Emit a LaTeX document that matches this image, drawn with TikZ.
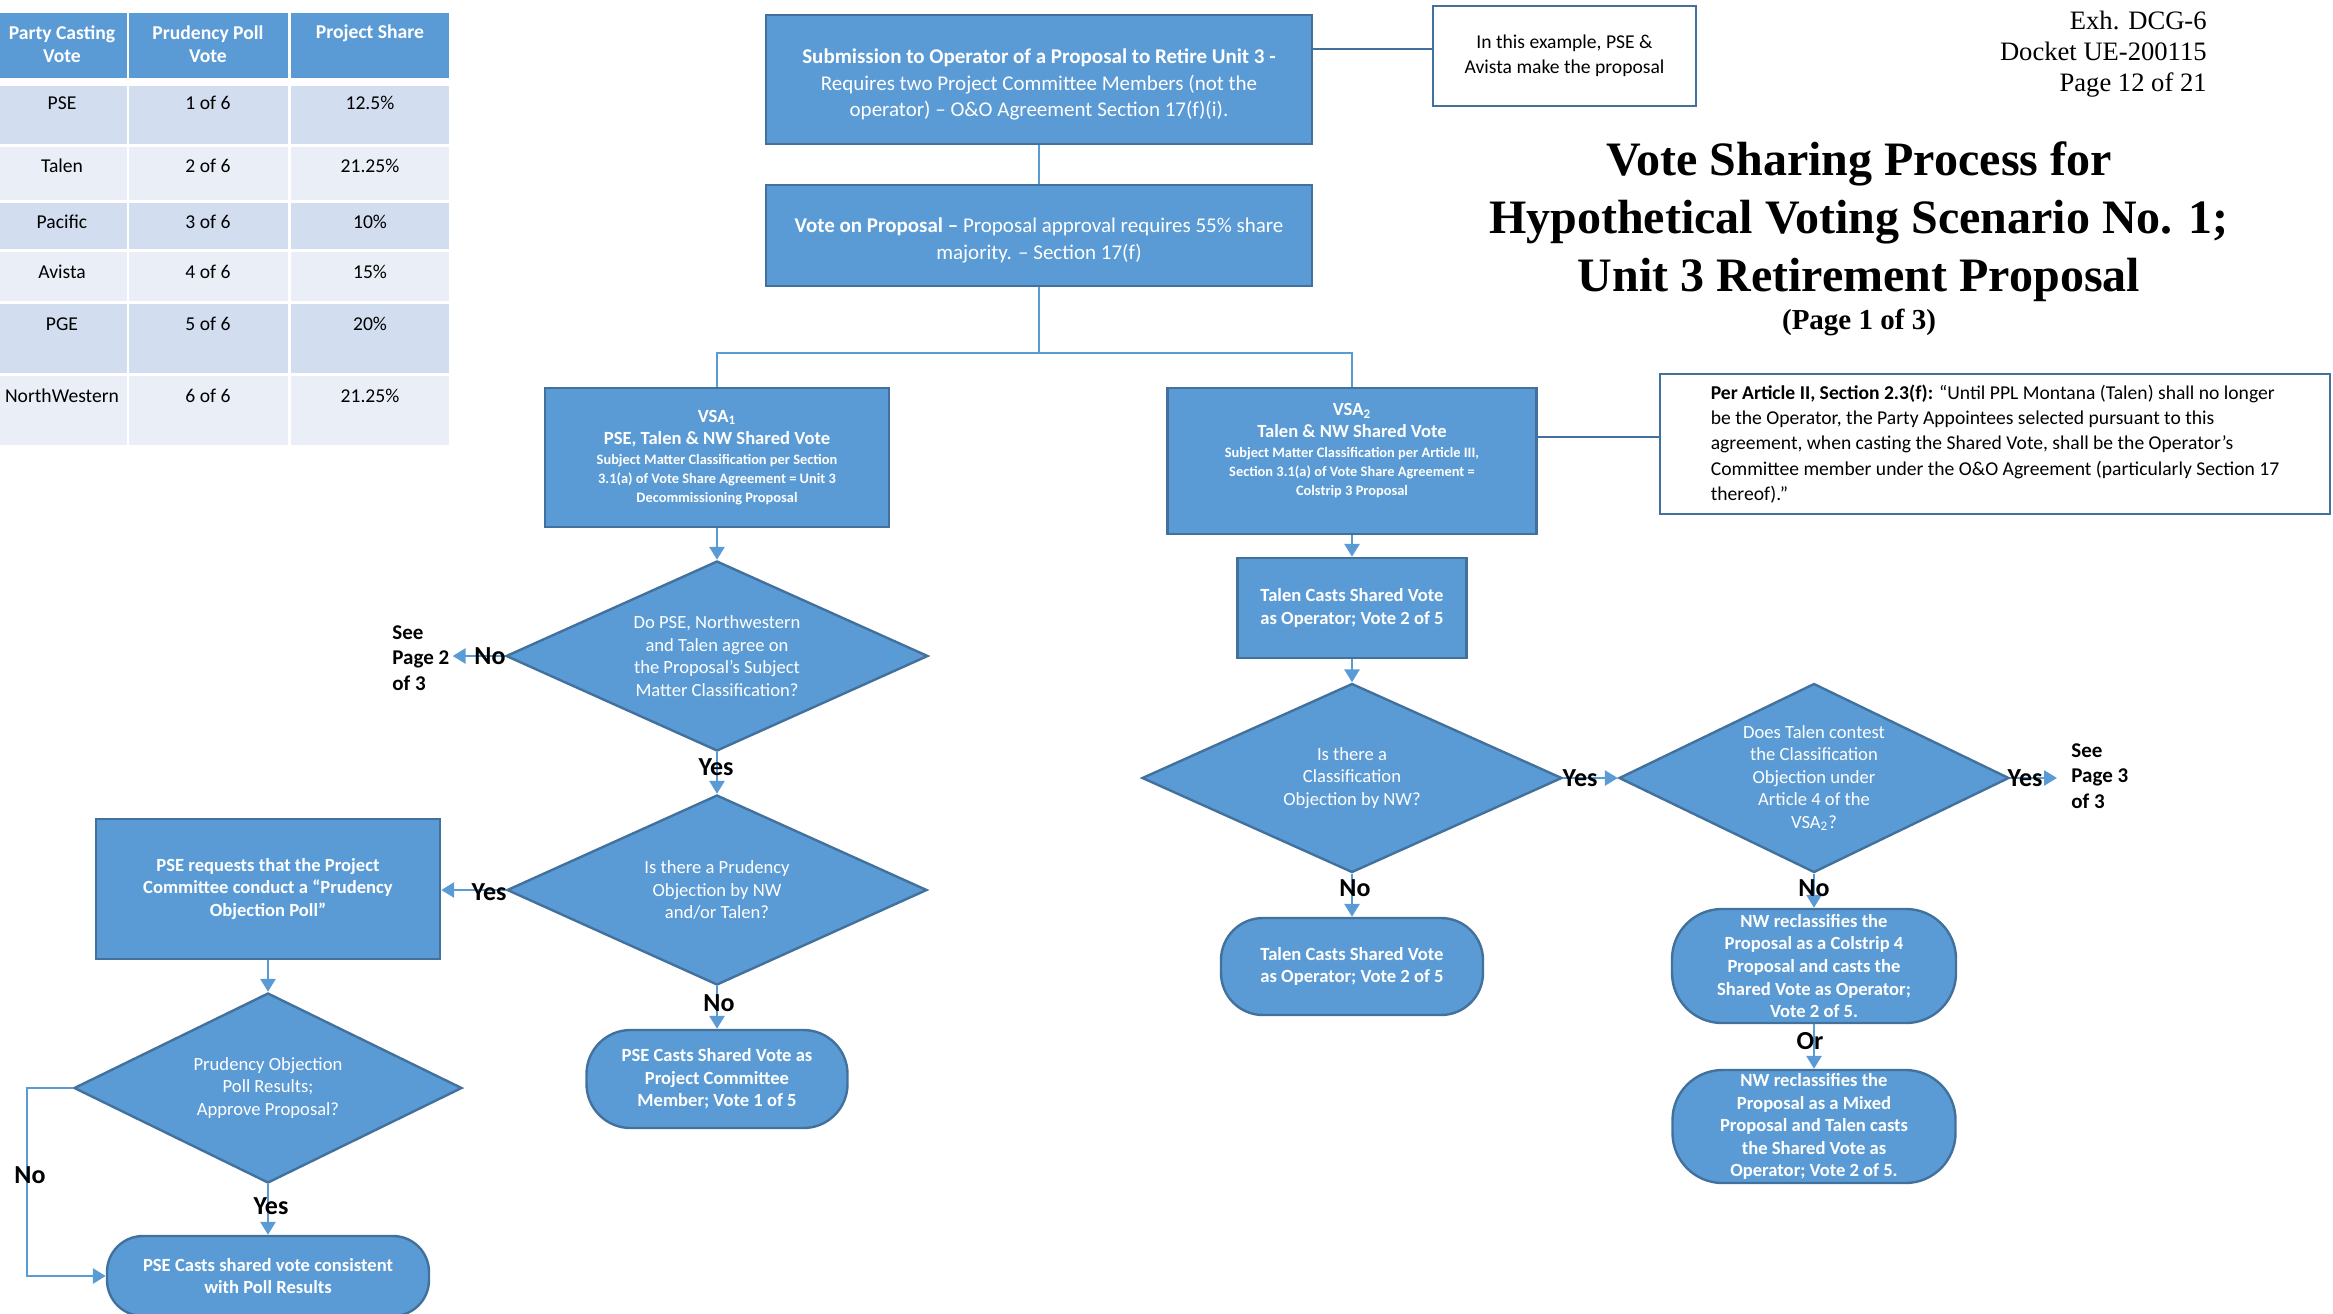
\documentclass[tikz,border=0pt]{standalone}
\usepackage{fontspec}
\setmainfont{Carlito}
\newfontfamily\seriff{Liberation Serif}
\usetikzlibrary{arrows.meta,shapes.geometric}
\definecolor{fillb}{HTML}{5B9BD5}
\definecolor{edgeb}{HTML}{41719C}
\definecolor{rowa}{HTML}{D2DEEF}
\definecolor{rowb}{HTML}{EAEFF7}
\begin{document}
\begin{tikzpicture}[x=0.5pt,y=-0.5pt,
 procbox/.style={draw=edgeb, fill=fillb, line width=1.2pt, text=white, align=center, inner sep=0pt, font=\bfseries\fontsize{9.3}{11.3}\selectfont},
 pill/.style={procbox, rounded corners=#1},
 dia/.style={diamond, aspect=2.1, draw=edgeb, fill=fillb, line width=1.2pt, text=white, align=center, inner sep=0pt, font=\fontsize{9.3}{11.3}\selectfont},
 notebox/.style={draw=edgeb, fill=white, line width=1.2pt, text=black, inner sep=0pt, font=\fontsize{9.8}{12.6}\selectfont},
 conn/.style={draw=fillb, line width=1.4pt, -{Triangle[width=7.5pt,length=6.5pt]}},
 thinl/.style={draw=fillb, line width=0.9pt},
 notel/.style={draw=edgeb, line width=1.2pt},
 lab/.style={font=\bfseries\fontsize{13}{15}\selectfont, inner sep=0pt, text=black},
 seelab/.style={font=\bfseries\fontsize{10.5}{12.6}\selectfont, inner sep=0pt, align=left, anchor=west, text=black},
 thd/.style={font=\bfseries\fontsize{9.8}{11.5}\selectfont, text=white, align=center, inner sep=0pt},
 tcell/.style={font=\fontsize{9.8}{11.5}\selectfont, text=black, inner sep=0pt},
 ttl/.style={anchor=base, font=\seriff\bfseries\fontsize{24}{29}\selectfont, inner sep=0pt},
 exh/.style={anchor=base east, font=\seriff\fontsize{13.3}{15.5}\selectfont, inner sep=0pt},
 ]
\useasboundingbox (0,0) rectangle (2333,1313);

% ---------- table ----------
\foreach \xa/\xb in {-31/127,129/288,291/449} \fill[fillb] (\xa,13) rectangle (\xb,78);
\foreach \ya/\yb/\cl in {86/144/rowa,147/200/rowb,203/249/rowa,252/301/rowb,304/373/rowa,376/445/rowb}
  \foreach \xa/\xb in {-31/127,129/288,291/449} \fill[\cl] (\xa,\ya) rectangle (\xb,\yb);
\node[thd] (th1) at (62,44.5) {Party Casting\\Vote};
\node[thd] (th2) at (208,44.5) {Prudency Poll\\Vote};
\node[thd] (th3) at (370,33) {Project Share};
\foreach \y/\a/\b/\c [count=\i] in {103/PSE/1 of 6/12.5\%,166/Talen/2 of 6/21.25\%,222/Pacific/3 of 6/10\%,272/Avista/4 of 6/15\%,324/PGE/5 of 6/20\%,396/NorthWestern/6 of 6/21.25\%}
{
  \node[tcell] (ta\i) at (62,\y) {\a};
  \node[tcell] (tb\i) at (208,\y) {\b};
  \node[tcell] (tc\i) at (370,\y) {\c};
}

% ---------- title block ----------
\node[ttl] (t1) at (1859,175) {Vote Sharing Process for};
\node[ttl] (t2) at (1859,233) {Hypothetical Voting Scenario No. 1;};
\node[ttl] (t3) at (1859,291) {Unit 3 Retirement Proposal};
\node[ttl, font=\seriff\bfseries\fontsize{14.5}{17}\selectfont] (t4) at (1859,329) {(Page 1 of 3)};
\node[exh] (e1) at (2207,29) {Exh. DCG-6};
\node[exh] (e2) at (2207,60) {Docket UE-200115};
\node[exh] (e3) at (2207,91) {Page 12 of 21};

% ---------- top ----------
\node[procbox, minimum width=273pt, minimum height=64.5pt, font=\fontsize{10.5}{13.3}\selectfont] (sub) at (1039,79.5)
 {\rule{0pt}{12.5pt}\textbf{Submission to Operator of a Proposal to Retire Unit 3 -}\\Requires two Project Committee Members (not the\\operator) – O\&O Agreement Section 17(f)(i).};
\node[notebox, minimum width=131.5pt, minimum height=50pt, align=center] (note1) at (1564.5,56) {In this example, PSE \&\\Avista make the proposal};
\coordinate (ly) at (0,49);
\draw[notel] (sub.east |- ly) -- (note1.west |- ly);

\node[procbox, minimum width=273pt, minimum height=50.5pt, font=\fontsize{10.5}{13.3}\selectfont] (vote) at (1039,235.5)
 {\rule{0pt}{12.5pt}\textbf{Vote on Proposal –} Proposal approval requires 55\% share\\majority. – Section 17(f)};
\draw[thinl] (sub) -- (vote);

\node[procbox, minimum width=172pt, minimum height=69.5pt] (vsa1) at (717,457.5)
 {VSA\textsubscript{1}\\[-0.3pt]PSE, Talen \& NW Shared Vote\\[-1.3pt]{\fontsize{7.2}{9}\selectfont Subject Matter Classification per Section}\\[-1.8pt]{\fontsize{7.2}{9}\selectfont 3.1(a) of Vote Share Agreement = Unit 3}\\[-1.8pt]{\fontsize{7.2}{9}\selectfont Decommissioning Proposal}};

\node[procbox, minimum width=184.5pt, minimum height=73pt] (vsa2) at (1352,461) {};
\node[text=white, align=center, inner sep=0pt, font=\bfseries\fontsize{9.3}{11.3}\selectfont] (vsa2t) at (1352,451)
 {VSA\textsubscript{2}\\[-0.3pt]Talen \& NW Shared Vote\\[-1.3pt]{\fontsize{7.2}{9}\selectfont Subject Matter Classification per Article III,}\\[-1.8pt]{\fontsize{7.2}{9}\selectfont Section 3.1(a) of Vote Share Agreement =}\\[-1.8pt]{\fontsize{7.2}{9}\selectfont Colstrip 3 Proposal}};

\coordinate (br) at (1039,353);
\draw[thinl] (vote.south) -- (br);
\draw[thinl] (vsa1.north) |- (br) -| (vsa2.north);

\node[notebox, minimum width=335pt, minimum height=70pt, align=left] (per) at (1995,444)
 {\textbf{Per Article II, Section 2.3(f):} “Until PPL Montana (Talen) shall no longer\\be the Operator, the Party Appointees selected pursuant to this\\agreement, when casting the Shared Vote, shall be the Operator’s\\Committee member under the O\&O Agreement (particularly Section 17\\thereof).”};
\coordinate (py) at (0,437);
\draw[notel] (vsa2.east |- py) -- (per.west |- py);

% ---------- left branch ----------
\node[dia, minimum width=211pt, minimum height=95pt] (dia1) at (717,656)
 {Do PSE, Northwestern\\and Talen agree on\\the Proposal’s Subject\\Matter Classification?};
\draw[conn] (vsa1.south) -- (dia1.north);
\node[seelab] (see2) at (392,658) {See\\Page 2\\of 3};
\draw[conn, shorten >=1.5pt] (dia1.west) -- (dia1.west -| see2.east);
\node[lab] (no1) at (490,656) {No};

\node[dia, minimum width=210pt, minimum height=95pt] (dia2) at (717,890)
 {Is there a Prudency\\Objection by NW\\and/or Talen?};
\draw[conn] (dia1.south) -- (dia2.north);
\node[lab] (yes1) at (716,767) {Yes};

\node[procbox, minimum width=172pt, minimum height=70pt] (preq) at (268,889)
 {PSE requests that the Project\\Committee conduct a “Prudency\\Objection Poll”};
\draw[conn] (dia2.west) -- (dia2.west -| preq.east);
\node[lab] (yes2) at (489,892) {Yes};

\node[pill=22pt, minimum width=130.5pt, minimum height=49pt] (endb) at (717,1079)
 {PSE Casts Shared Vote as\\Project Committee\\Member; Vote 1 of 5};
\draw[conn] (dia2.south) -- (endb.north);
\node[lab] (no2) at (719,1003) {No};

\node[dia, minimum width=194pt, minimum height=95pt] (dia3) at (268,1088)
 {Prudency Objection\\Poll Results;\\Approve Proposal?};
\draw[conn] (preq.south) -- (dia3.north);

\node[pill=18pt, minimum width=161pt, minimum height=40pt] (enda) at (268,1276)
 {PSE Casts shared vote consistent\\with Poll Results};
\draw[conn] (dia3.south) -- (enda.north);
\node[lab] (yes3) at (271,1206) {Yes};
\coordinate (lp) at (27,1088);
\draw[conn] (dia3.west) -- (lp) |- (enda.west);
\node[lab] (no3) at (30,1175) {No};

% ---------- right branch ----------
\node[procbox, minimum width=114.5pt, minimum height=50pt] (tal1) at (1352,608)
 {Talen Casts Shared Vote\\as Operator; Vote 2 of 5};
\draw[conn] (vsa2.south) -- (tal1.north);

\node[dia, minimum width=210pt, minimum height=94.5pt] (dia4) at (1352,778)
 {Is there a\\Classification\\Objection by NW?};
\draw[conn] (tal1.south) -- (dia4.north);

\node[dia, minimum width=195pt, minimum height=94.5pt] (dia5) at (1814,778)
 {Does Talen contest\\the Classification\\Objection under\\Article 4 of the\\VSA\textsubscript{2}?};
\draw[conn] (dia4.east) -- (dia5.west);
\node[lab] (yes4) at (1580,778) {Yes};

\node[seelab] (see3) at (2071,776) {See\\Page 3\\of 3};
\draw[conn, shorten >=7pt] (dia5.east) -- (dia5.east -| see3.west);
\node[lab] (yes5) at (2025,778) {Yes};

\node[pill=21pt, minimum width=131pt, minimum height=48.5pt] (endc) at (1352,966.5)
 {Talen Casts Shared Vote\\as Operator; Vote 2 of 5};
\draw[conn] (dia4.south) -- (endc.north);
\node[lab] (no4) at (1355,888) {No};

\node[pill=25pt, minimum width=142pt, minimum height=57pt] (endd) at (1814,966)
 {NW reclassifies the\\Proposal as a Colstrip 4\\Proposal and casts the\\Shared Vote as Operator;\\Vote 2 of 5.};
\draw[conn] (dia5.south) -- (endd.north);
\node[lab] (no5) at (1814,888) {No};

\node[pill=25pt, minimum width=141.5pt, minimum height=56.5pt] (ende) at (1814,1126.5)
 {NW reclassifies the\\Proposal as a Mixed\\Proposal and Talen casts\\the Shared Vote as\\Operator; Vote 2 of 5.};
\draw[conn] (endd.south) -- (ende.north);
\node[lab] (or1) at (1810,1041) {Or};
\end{tikzpicture}
\end{document}
